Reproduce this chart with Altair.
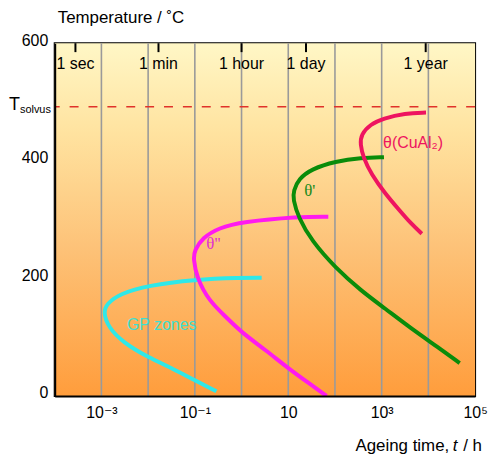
import altair as alt
import pandas as pd

W, H = 423, 355

# ---- data ----
gp_time = [2.7, 1.0, 0.098, 0.0098, 0.0025, 0.0013, 0.0011, 0.0014, 0.0029, 0.0098, 0.033, 0.098, 0.29]
gp_temp = [201, 201, 198, 188, 174, 157, 142, 117, 91, 66, 47, 27, 8]

t2_time = [72, 16.6, 1.0, 0.33, 0.145, 0.098, 0.093, 0.11, 0.2, 0.47, 1.0, 3.3, 10, 31, 66]
t2_temp = [305, 305, 296, 286, 269, 247, 234, 201, 162, 134, 108, 78, 47, 19, 0]

t1_time = [1120, 363, 102, 31.6, 16.6, 13, 12.6, 16.6, 31.6, 102, 363, 1170, 4240, 15900, 46800]
t1_temp = [406, 405, 399, 386, 369, 349, 335, 303, 264, 218, 179, 149, 115, 83, 56]

th_time = [8900, 3160, 1070, 575, 363, 347, 407, 603, 1170, 2450, 4270, 7240]
th_temp = [482, 481, 472, 462, 445, 428, 405, 377, 345, 315, 293, 276]

phases = ["GP", "t2", "t1", "theta"]
phase_colors = ["#2FE8E8", "#FF1AF0", "#0A8C0A", "#EE1460"]

T_solvus = 492

decades = [1e-4, 1e-3, 1e-2, 1e-1, 1, 10, 100, 1e3, 1e4, 1e5]
decade_labels = ["", "10⁻³", "", "10⁻¹", "", "10", "", "10³", "", "10⁵"]

top_times = [1 / 3600, 1 / 60, 1, 24, 8760]
top_labels = ["1 sec", "1 min", "1 hour", "1 day", "1 year"]

serif_lbl_text = ["θ''", "θ'"]
serif_lbl_time = [0.25, 29]
serif_lbl_temp = [258, 349]
serif_lbl_color = ["#E030D0", "#1A8A1A"]

sans_lbl_text = ["θ(CuAl₂)", "GP zones"]
sans_lbl_time = [4700, 0.0195]
sans_lbl_temp = [430, 121]
sans_lbl_color = ["#EE1460", "#3EDFCF"]

# ---- tables ----
rows = []
for ph, ts, Ts in zip(phases, [gp_time, t2_time, t1_time, th_time], [gp_temp, t2_temp, t1_temp, th_temp]):
    for i, (t, T) in enumerate(zip(ts, Ts)):
        rows.append({"phase": ph, "t": t, "T": T, "i": i})
curves = pd.DataFrame(rows)

grid_df = pd.DataFrame({"t": decades[1:-1]})
top_df = pd.DataFrame({"t": top_times, "lab": top_labels})
serif_df = pd.DataFrame({"t": serif_lbl_time, "T": serif_lbl_temp, "lab": serif_lbl_text, "c": serif_lbl_color})
sans_df = pd.DataFrame({"t": sans_lbl_time, "T": sans_lbl_temp, "lab": sans_lbl_text, "c": sans_lbl_color})
solv_df = pd.DataFrame({"T": [T_solvus]})
one = pd.DataFrame({"a": [0]})

FONT = "Liberation Sans, Arial, DejaVu Sans"

label_expr = "[" + ",".join("'" + s + "'" for s in decade_labels) + "][round(log(datum.value)/LN10)+4]"

xscale = alt.Scale(type="log", domain=[1e-4, 1e5], nice=False)
yscale = alt.Scale(domain=[0, 600], nice=False, zero=False)

xaxis = alt.Axis(values=decades, labelExpr=label_expr, ticks=False, grid=False, title=None,
                 domainColor="black", domainWidth=2, labelFontSize=16, labelFont=FONT,
                 labelColor="black", labelPadding=9, labelFlush=False, labelOverlap=False, zindex=1)
yaxis = alt.Axis(values=[0, 200, 400, 600], ticks=False, grid=False, title=None,
                 domainColor="black", domainWidth=2, labelFontSize=16, labelFont=FONT,
                 labelColor="black", labelPadding=7, labelOffset=-3, labelFlush=False, zindex=1)

X = alt.X("t:Q", scale=xscale, axis=xaxis)
Y = alt.Y("T:Q", scale=yscale, axis=yaxis)

grad = alt.Gradient(
    gradient="linear",
    stops=[
        alt.GradientStop(color="#FFF7C6", offset=0),
        alt.GradientStop(color="#FFE3A0", offset=0.25),
        alt.GradientStop(color="#FDC278", offset=0.58),
        alt.GradientStop(color="#FF9D3C", offset=1),
    ],
    x1=0, x2=0, y1=0, y2=1,
)

bg = alt.Chart(one).mark_rect(fill=grad).encode(
    x=alt.value(0), x2=alt.value(W), y=alt.value(0), y2=alt.value(H))

grid = alt.Chart(grid_df).mark_rule(color="#9A9A9A", strokeWidth=1.6).encode(x=X)

solv = alt.Chart(solv_df).mark_rule(color="#E0322A", strokeWidth=1.6, strokeDash=[9, 10]).encode(y=Y)

lines = alt.Chart(curves).mark_line(strokeWidth=4, interpolate="basis", clip=True).encode(
    x=X, y=Y,
    color=alt.Color("phase:N", scale=alt.Scale(domain=phases, range=phase_colors), legend=None),
    order="i:Q",
)

serif_txt = alt.Chart(serif_df).mark_text(font="Liberation Serif, DejaVu Serif", fontSize=17).encode(
    x=X, y=Y, text="lab:N", color=alt.Color("c:N", scale=None))
sans_txt = alt.Chart(sans_df).mark_text(font=FONT, fontSize=16).encode(
    x=X, y=Y, text="lab:N", color=alt.Color("c:N", scale=None))

top_ticks = alt.Chart(top_df).mark_rule(color="black", strokeWidth=2).encode(
    x=X, y=alt.value(0), y2=alt.value(9))
top_text = alt.Chart(top_df).mark_text(font=FONT, fontSize=16, baseline="middle", color="black").encode(
    x=X, y=alt.value(21), text="lab:N")

title_txt = alt.Chart(one).mark_text(text="Temperature / ˚C", font=FONT, fontSize=17, align="left",
                                     baseline="middle", color="black").encode(
    x=alt.value(3), y=alt.value(-25))

ts_T = alt.Chart(solv_df).mark_text(text="T", font=FONT, fontSize=18, align="left",
                                    baseline="alphabetic", dy=3, color="black").encode(
    x=alt.value(-46), y=Y)
ts_sub = alt.Chart(solv_df).mark_text(text="solvus", font=FONT, fontSize=11, align="left",
                                      baseline="alphabetic", dy=6, color="black").encode(
    x=alt.value(-35), y=Y)

xt1 = alt.Chart(one).mark_text(text="Ageing time,", font=FONT, fontSize=17, align="right",
                               baseline="middle", color="black").encode(x=alt.value(397), y=alt.value(405))
xt2 = alt.Chart(one).mark_text(text="t", font=FONT, fontSize=17, fontStyle="italic", align="center",
                               baseline="middle", color="black").encode(x=alt.value(403), y=alt.value(405))
xt3 = alt.Chart(one).mark_text(text="/ h", font=FONT, fontSize=17, align="left",
                               baseline="middle", color="black").encode(x=alt.value(411), y=alt.value(405))

chart = alt.layer(
    bg, grid, solv, lines, serif_txt, sans_txt, top_ticks, top_text,
    title_txt, ts_T, ts_sub, xt1, xt2, xt3,
).properties(
    width=W, height=H,
    padding={"left": 47, "top": 34, "right": 14, "bottom": 60},
    autosize=alt.AutoSizeParams(type="none"),
    background="white",
).configure_view(stroke="black", strokeWidth=2)

chart.save("out.html", embed_options={"renderer": "svg", "actions": False})
